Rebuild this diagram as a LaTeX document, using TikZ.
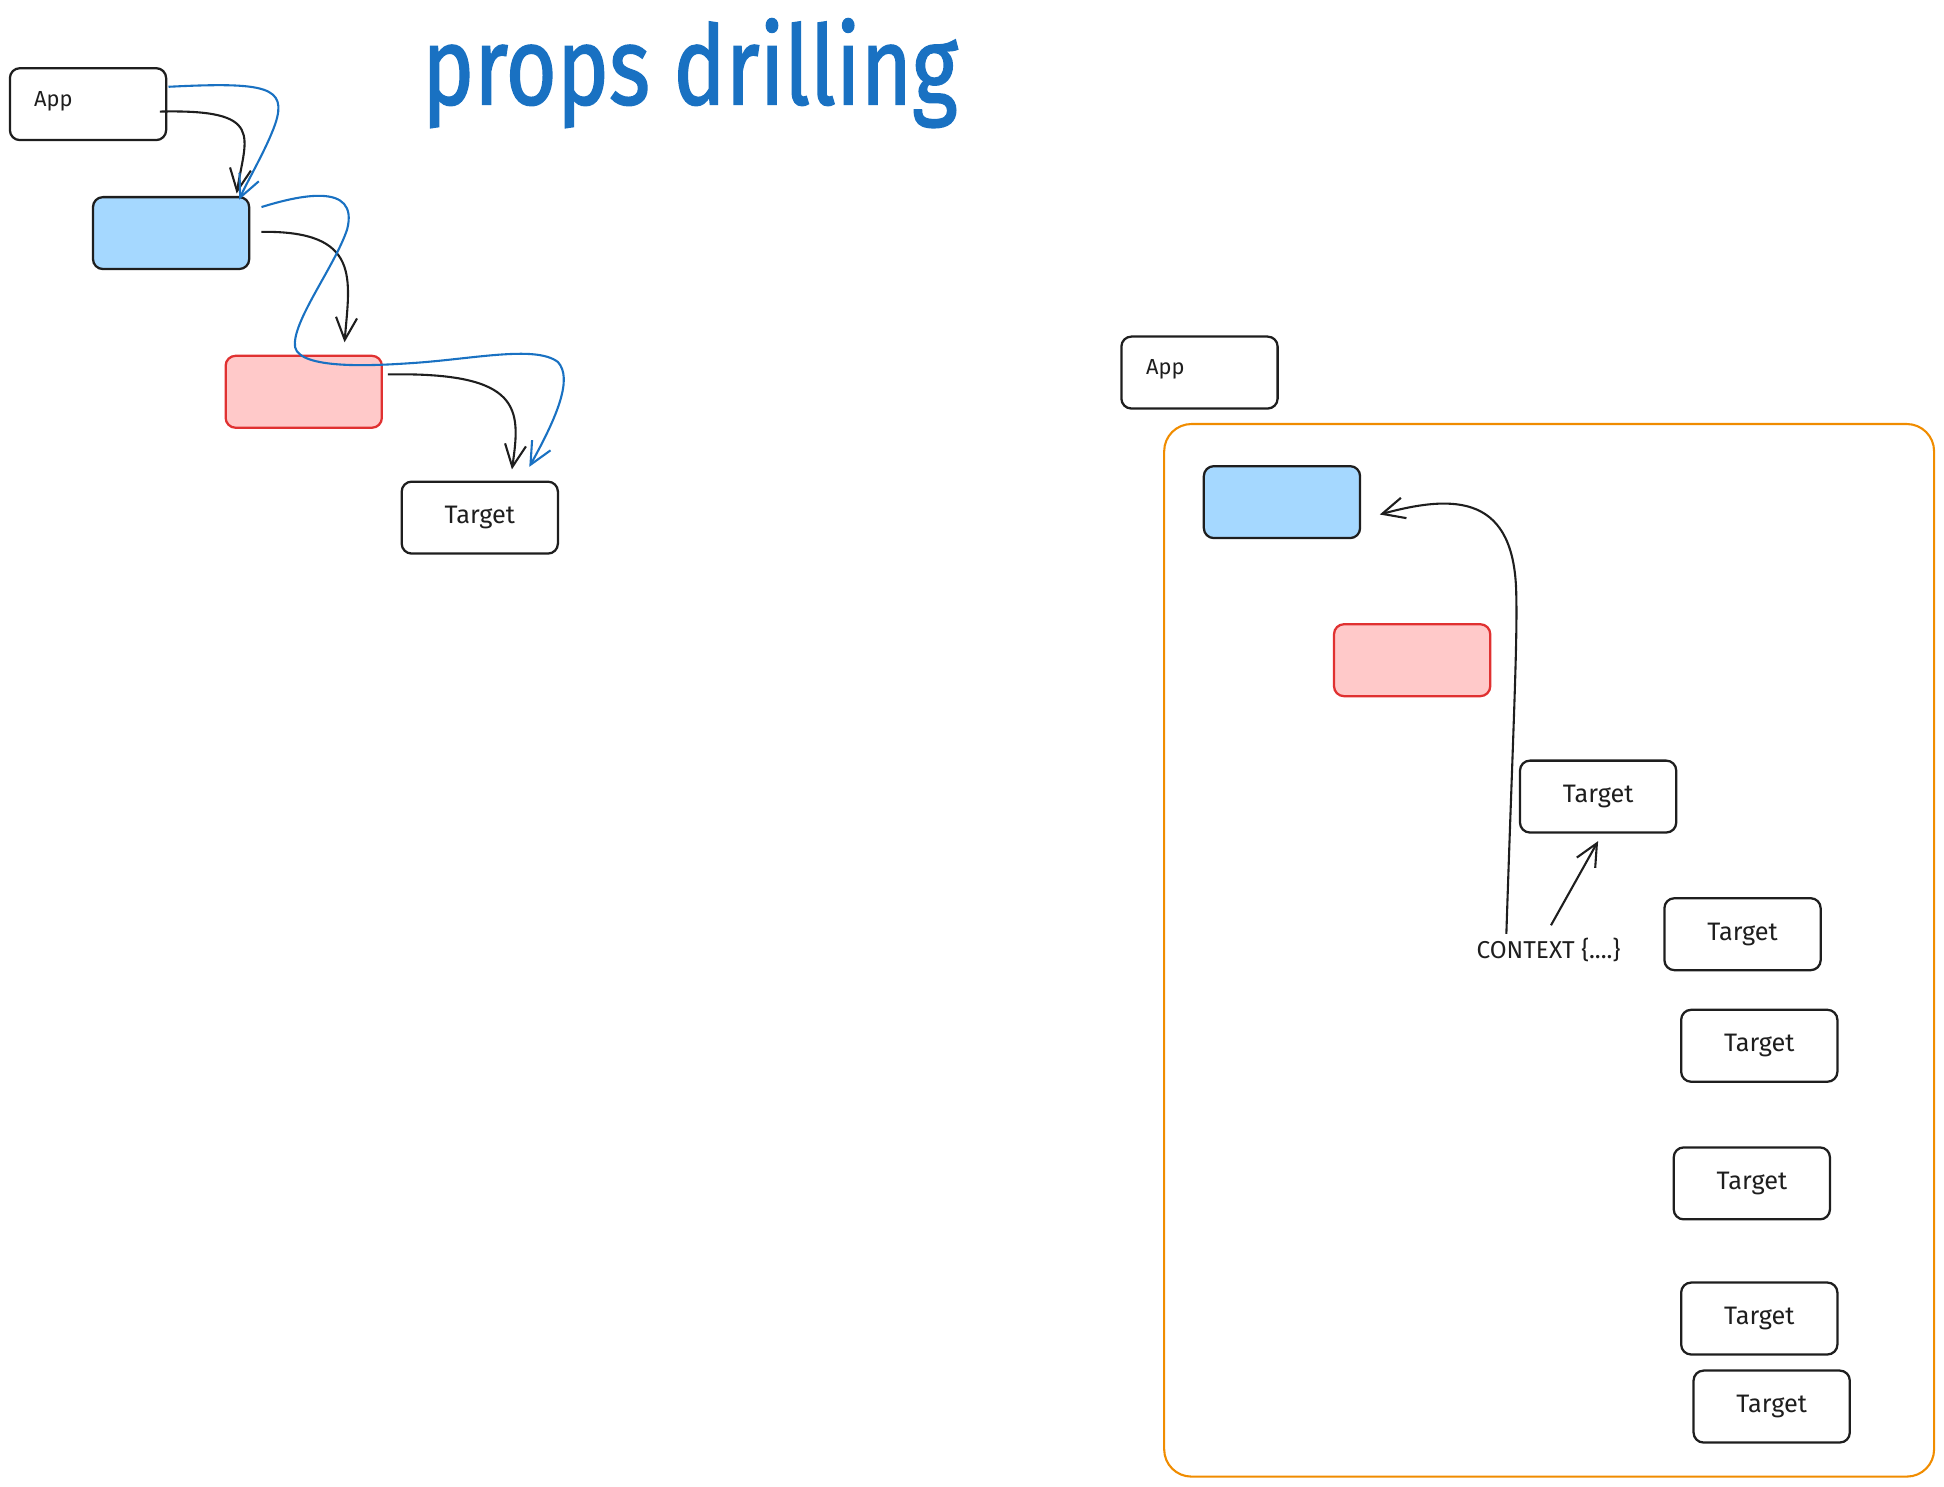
\documentclass[tikz,border=0pt]{standalone}
\usepackage{fontspec}
\setmainfont{Fira Sans}
\newfontfamily\titlefont{Fira Sans}[FakeBold=1.6]
\usetikzlibrary{arrows.meta,calc}
\definecolor{ink}{HTML}{1E1E1E}
\definecolor{xblue}{HTML}{1971C2}
\definecolor{xbluefill}{HTML}{A5D8FF}
\definecolor{xred}{HTML}{E03131}
\definecolor{xredfill}{HTML}{FFC9C9}
\definecolor{xorange}{HTML}{F08C00}
\begin{document}
\begin{tikzpicture}[x=0.5mm,y=-0.5mm,
  box/.style={draw=ink,line width=2.6pt,rounded corners=4mm,minimum width=63mm,minimum height=29mm,inner sep=0pt,font=\fontsize{29}{31}\selectfont,text=ink},
  bluebox/.style={box,fill=xbluefill},
  redbox/.style={box,draw=xred,fill=xredfill},
  lbl/.style={inner sep=0pt,font=\fontsize{25}{27}\selectfont,text=ink},
  conn/.style={draw=ink,line width=2.4pt,-{Straight Barb[length=9mm,width=8.5mm]}},
  bconn/.style={conn,draw=xblue},
  frame/.style={draw=xorange,line width=2.4pt,rounded corners=11mm}]
\useasboundingbox (0,0) rectangle (1568,1199);

% title
\node[inner sep=0pt,text=xblue] (ttl) at (556.5,59) {\resizebox*{216mm}{44mm}{\titlefont props drilling}};

% left: props drilling
\node[box] (appA) at (71,84) {};
\node[lbl] (appAtxt) at (43,82) {App};
\node[bluebox] (blueA) at (138,188) {};
\node[redbox] (redA) at (245,316) {};
\node[box] (tA) at (387,417.5) {Target};

\draw[conn] ($(appA.east)+(-6,6)$) .. controls (215,88) and (198,110) .. ($(blueA.north east)+(-11,-2)$);
\draw[conn] ($(blueA.east)+(9,-1)$) .. controls (292,186) and (282,225) .. ($(redA.north east)+(-31,-10)$);
\draw[conn] ($(redA.east)+(4,-14)$) .. controls (422,300) and (420,330) .. ($(tA.north east)+(-38,-9)$);

\draw[bconn] ($(appA.east)+(1,-14)$) .. controls (215,66) and (232,70) .. (222,100) .. controls (215,120) and (200,145) .. ($(blueA.north east)+(-9,3)$);
\draw[bconn] ($(blueA.east)+(9,-21)$) .. controls (240,158) and (290,146) .. (280,185)
  .. controls (270,215) and (235,260) .. (238,280)
  .. controls (242,298) and (300,295) .. (330,293)
  .. controls (380,290) and (432,278) .. (450,292)
  .. controls (462,305) and (450,335) .. ($(tA.north east)+(-24,-11)$);

% right: context
\node[box] (appB) at (967.5,300.5) {};
\node[lbl] (appBtxt) at (940,298) {App};
\draw[frame] (939,342) rectangle (1560,1191);
\node[bluebox] (blueB) at (1034,405) {};
\node[redbox] (redB) at (1139,532.5) {};
\node[box] (ta) at (1289,642.5) {Target};
\node[box] (tb) at (1405.5,753.5) {Target};
\node[box] (tc) at (1419,843.5) {Target};
\node[box] (td) at (1413,954.5) {Target};
\node[box] (te) at (1419,1063.5) {Target};
\node[box] (tf) at (1429,1134.5) {Target};
\node[lbl,font=\fontsize{28}{30}\selectfont] (ctx) at (1249,766) {CONTEXT \{....\}};

\draw[conn] ($(ctx.north)+(-34,-3)$) .. controls (1220,600) and (1224,520) .. (1223,480)
  .. controls (1222,400) and (1175,398) .. ($(blueB.east)+(15,10)$);
\draw[conn] ($(ctx.north)+(2,-10)$) -- ($(ta.south)+(0,6)$);
\end{tikzpicture}
\end{document}
